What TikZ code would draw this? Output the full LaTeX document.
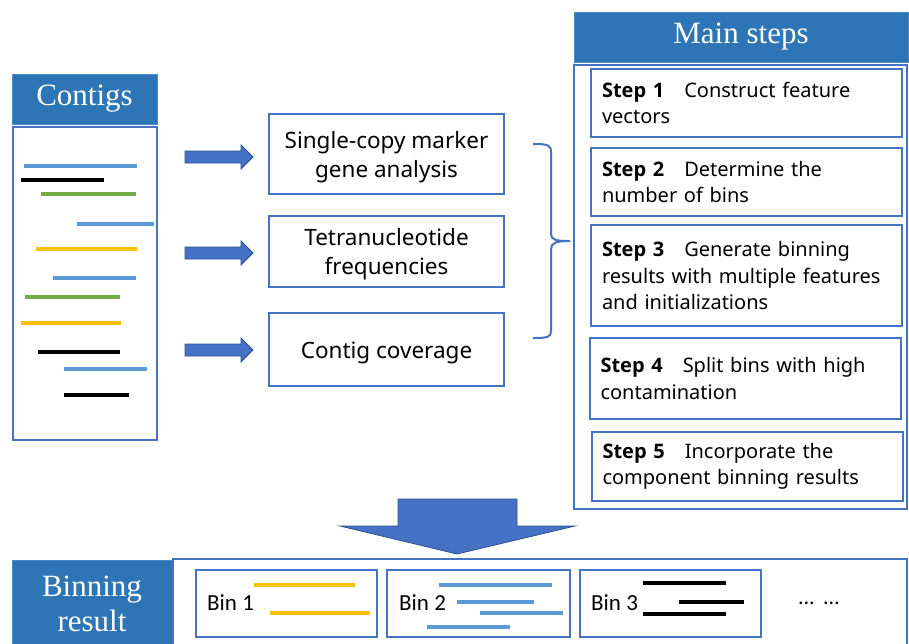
\documentclass[tikz,border=0pt]{standalone}
\usepackage{fontspec}
\setmainfont{Noto Sans}[BoldFont={Open Sans Bold}]
\newfontfamily\serifhead{Liberation Serif}
\newfontfamily\binfont{Carlito}
\usetikzlibrary{arrows.meta}
\definecolor{headblue}{RGB}{46,117,182}
\definecolor{boxblue}{RGB}{68,114,196}
\definecolor{arrowedge}{RGB}{47,82,143}
\definecolor{contigblue}{RGB}{91,155,213}
\definecolor{contiggreen}{RGB}{112,173,71}
\definecolor{contigorange}{RGB}{255,192,0}

\begin{document}
\begin{tikzpicture}[x=1pt, y=-1pt,
  header/.style={fill=headblue, draw=headblue!85!white, line width=1pt, text=white,
                 inner sep=0pt, align=center, font=\serifhead\fontsize{31}{35}\selectfont},
  frame/.style={draw=boxblue, line width=2pt, inner sep=0pt},
  featbox/.style={frame, minimum width=235pt, align=center,
                  font=\fontsize{22.5}{29}\selectfont},
  stepbox/.style={frame, minimum width=311pt, text width=289pt, inner xsep=11pt,
                  align=left, font=\fontsize{20}{26.5}\selectfont},
  binbox/.style={frame, minimum height=67pt},
  binlabel/.style={anchor=west, inner sep=0pt, font=\binfont\fontsize{23}{26}\selectfont},
  blockarrow/.style={fill=boxblue, draw=arrowedge, line width=0.8pt},
  contig/.style={line width=4pt}]
  \useasboundingbox (0,0) rectangle (909,643);
  \clip (0,0) rectangle (909,643);

  % Contigs column
  \node[header, minimum width=145pt, minimum height=50pt] (contighead) at (84.5,99) {Contigs};
  \node[frame, minimum width=144pt, minimum height=313pt] (contigbox) at (85,283.5) {};
  \foreach \xa/\xb/\y/\c in {24/137/166/contigblue, 21/104/180/black, 41/136/194/contiggreen,
      77/154/224/contigblue, 36/137/249/contigorange, 53/136/278/contigblue,
      25/120/297/contiggreen, 21/121/323/contigorange, 38/120/352/black,
      64/147/369/contigblue, 64/129/395/black}
    \draw[contig, \c] (\xa,\y) -- (\xb,\y);

  % Feature boxes
  \node[featbox, minimum height=80pt] (marker) at (386.5,154) {\rule{0pt}{23pt}Single-copy marker\\gene analysis};
  \node[featbox, minimum height=71pt] (tetra) at (386.5,251.5) {\rule{0pt}{23pt}Tetranucleotide\\frequencies};
  \node[featbox, minimum height=73pt] (coverage) at (386.5,349.5) {\rule{0pt}{23pt}Contig coverage};

  % Arrows into the feature boxes
  \foreach \y in {157,253,350}
    \filldraw[blockarrow] (185,\y-6) -- (241,\y-6) -- (241,\y-12) -- (253,\y)
      -- (241,\y+12) -- (241,\y+6) -- (185,\y+6) -- cycle;

  % Brace
  \draw[boxblue, line width=2pt]
    (533,144) .. controls (548,144) and (551,145) .. (551,152) -- (551,234)
    .. controls (551,240) and (556,241) .. (570,241)
    .. controls (556,241) and (551,243) .. (551,249) -- (551,331)
    .. controls (551,337) and (548,338) .. (533,338);

  % Main steps column
  \node[header, minimum width=334pt, minimum height=50pt] (stephead) at (741,37) {Main steps};
  \node[frame, minimum width=333pt, minimum height=444pt] (stepframe) at (740.5,287) {};
  \node[stepbox, minimum height=68pt] (step1) at (746.5,103)
    {\textbf{Step 1}\hspace{20pt}Construct feature\\vectors};
  \node[stepbox, minimum height=68pt] (step2) at (746.5,182)
    {\textbf{Step 2}\hspace{20pt}Determine the\\number of bins};
  \node[stepbox, minimum height=101pt] (step3) at (746.5,275.5)
    {\textbf{Step 3}\hspace{20pt}Generate binning\\results with multiple features\\and initializations};
  \node[stepbox, minimum height=81pt] (step4) at (745,378.5)
    {\textbf{Step 4}\hspace{20pt}Split bins with high\\contamination};
  \node[stepbox, minimum height=69pt] (step5) at (747,466.5)
    {\textbf{Step 5}\hspace{20pt}Incorporate the\\component binning results};

  % Big arrow down
  \filldraw[blockarrow] (398,499) -- (517,499) -- (517,526) -- (575,526) -- (457,554)
    -- (340,526) -- (398,526) -- cycle;

  % Binning result row
  \node[header, minimum width=160pt, minimum height=88pt] (binhead) at (92,604) {Binning\\result};
  \node[frame, minimum width=734pt, minimum height=90pt] (binframe) at (540,604) {};
  \node[binbox, minimum width=181pt] (bin1) at (286.5,603.5) {};
  \node[binbox, minimum width=183pt] (bin2) at (478.5,603.5) {};
  \node[binbox, minimum width=181pt] (bin3) at (670.5,603.5) {};
  \node[binlabel] (bin1text) at (207,603) {Bin 1};
  \node[binlabel] (bin2text) at (399,603) {Bin 2};
  \node[binlabel] (bin3text) at (591,603) {Bin 3};
  \node[inner sep=0pt, font=\binfont\fontsize{22}{24}\selectfont] (more) at (819,603) {…\hspace{10pt}…};

  % Contigs in each bin
  \draw[contig, contigorange] (254,585) -- (355,585);
  \draw[contig, contigorange] (270,613) -- (370,613);
  \draw[contig, contigblue] (439,585) -- (552,585);
  \draw[contig, contigblue] (457,602) -- (534,602);
  \draw[contig, contigblue] (480,613) -- (563,613);
  \draw[contig, contigblue] (427,627) -- (510,627);
  \draw[contig, black] (643,583) -- (726,583);
  \draw[contig, black] (679,602) -- (744,602);
  \draw[contig, black] (643,614) -- (726,614);
\end{tikzpicture}
\end{document}
